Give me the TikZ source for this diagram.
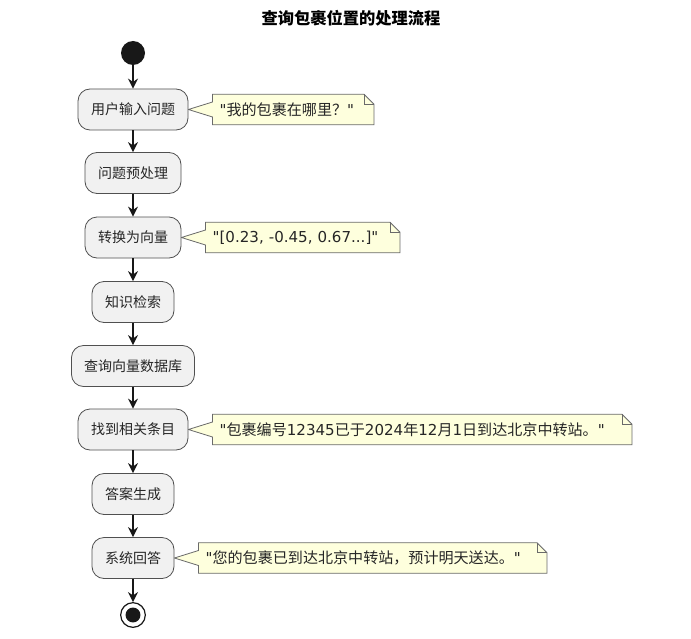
\documentclass[tikz,border=0pt]{standalone}
\usepackage{fontspec}
\newfontfamily\cjk{Noto Sans CJK SC}
\newfontfamily\dv{DejaVu Sans}
\usetikzlibrary{arrows.meta,positioning,backgrounds}
\definecolor{actfill}{HTML}{F1F1F1}
\definecolor{actline}{HTML}{505050}
\definecolor{flowc}{HTML}{181818}
\definecolor{notefill}{HTML}{FEFFDD}
\definecolor{noteline}{HTML}{6A6A6A}
\begin{document}
\begin{tikzpicture}[x=0.75pt,y=-0.75pt,
  every node/.style={font=\cjk},
  act/.style={draw=actline, fill=actfill, rounded corners=9pt, line width=0.6pt,
    minimum height=30.75pt, inner sep=0pt, font=\cjk\fontsize{10.5}{12}\selectfont, text=black!85},
  startnode/.style={circle, fill=flowc, minimum size=18pt, inner sep=0pt},
  flow/.style={draw=flowc, line width=1pt, -{Stealth[length=7.5pt,width=7.5pt,inset=2.5pt]}},
  notebox/.style={minimum height=22.5pt, inner xsep=5.25pt, inner ysep=0pt, align=left,
    font=\cjk\fontsize{11.3}{12}\selectfont, text=black!85},
  noteshape/.style={draw=noteline, fill=notefill, line width=0.6pt, line join=miter}
]
\useasboundingbox (0,0) rectangle (691,638);

\node[font=\cjk\bfseries\fontsize{12.2}{14}\selectfont] (title) at (351,18) {查询包裹位置的处理流程};

\node[startnode] (start) at (133,53) {};

\node[act, minimum width=82.5pt] (b1) at (133,109.5) {用户输入问题};
\node[act, minimum width=72pt]   (b2) at (133,173) {问题预处理};
\node[act, minimum width=72pt]   (b3) at (133,237.5) {转换为向量};
\node[act, minimum width=61.5pt] (b4) at (133,302) {知识检索};
\node[act, minimum width=92.25pt] (b5) at (133,366) {查询向量数据库};
\node[act, minimum width=82.5pt] (b6) at (133,429.5) {找到相关条目};
\node[act, minimum width=61.5pt] (b7) at (133,494) {答案生成};
\node[act, minimum width=61.5pt] (b8) at (133,558) {系统回答};

\node[circle, draw=flowc, line width=0.9pt, fill=white, minimum size=18.5pt, inner sep=0pt] (end) at (133,615) {};
\fill[flowc] (end.center) circle (5.6pt);

\draw[flow] (start) -- (b1);
\draw[flow] (b1) -- (b2);
\draw[flow] (b2) -- (b3);
\draw[flow] (b3) -- (b4);
\draw[flow] (b4) -- (b5);
\draw[flow] (b5) -- (b6);
\draw[flow] (b6) -- (b7);
\draw[flow] (b7) -- (b8);
\draw[flow] (b8) -- (end);

\node[notebox, text width=110.25pt, right=18pt of b1] (n1) {{\dv"}我的包裹在哪里？{\dv"}};
\node[notebox, text width=135pt, right=18pt of b3] (n3) {\dv"[0.23, -0.45, 0.67...]"};
\node[notebox, text width=303.75pt, right=18pt of b6] (n6) {{\dv"}包裹编号{\dv 12345}已于{\dv 2024}年{\dv 12}月{\dv 1}日到达北京中转站。{\dv"}};
\node[notebox, text width=250.5pt, right=18pt of b8] (n8) {{\dv"}您的包裹已到达北京中转站，预计明天送达。{\dv"}};

\begin{scope}[on background layer]
\fill[white] (0,0) rectangle (691,638);
\foreach \n/\b in {n1/b1, n3/b3, n6/b6, n8/b8}{
  \draw[noteshape] (\n.north west) -- ([xshift=-7.5pt]\n.north east) -- ([yshift=-7.5pt]\n.north east)
    -- (\n.south east) -- (\n.south west) -- ([yshift=-5.6pt]\n.west) -- (\b.east)
    -- ([yshift=5.6pt]\n.west) -- cycle;
  \draw[noteshape, fill=none] ([xshift=-7.5pt]\n.north east) -- ([xshift=-7.5pt,yshift=-7.5pt]\n.north east)
    -- ([yshift=-7.5pt]\n.north east);
}
\end{scope}
\end{tikzpicture}
\end{document}
